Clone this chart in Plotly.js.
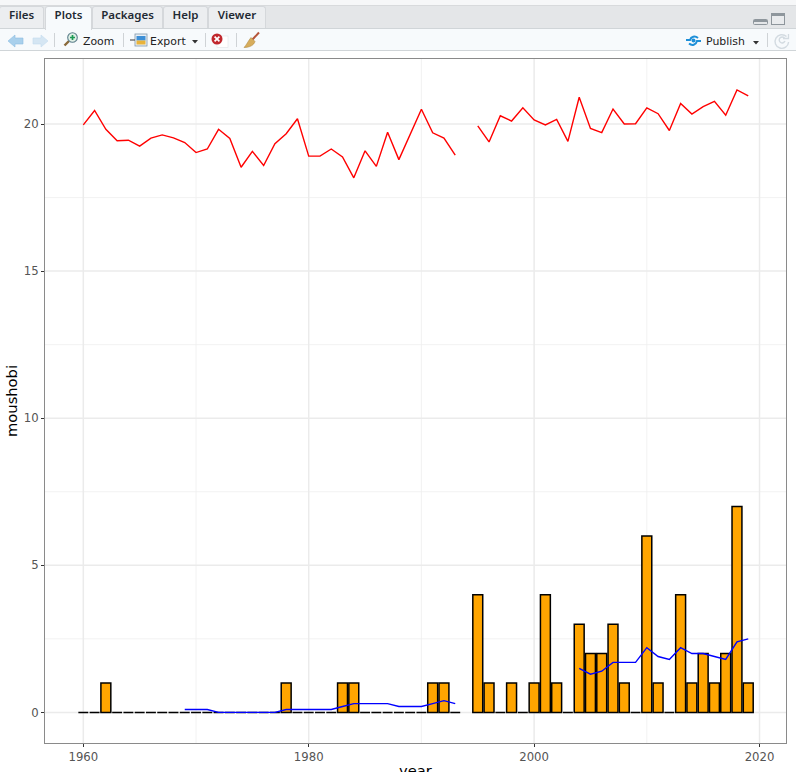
<!DOCTYPE html>
<html>
<head>
<meta charset="utf-8">
<script src="https://cdn.plot.ly/plotly-3.0.1.min.js"></script>
<style>
html,body{margin:0;padding:0;background:#fff;width:796px;height:772px;overflow:hidden}
#chart{position:absolute;left:0;top:0;width:796px;height:772px}
#chart .xgrid,#chart .ygrid{shape-rendering:geometricPrecision !important}
#chart .g-ytitle{transform:translate(11px,0)}
#chrome{position:absolute;left:0;top:0;width:796px;height:51px;background:#f4f6f8;z-index:5;overflow:hidden}
#chrome .bar{position:absolute;left:0;width:796px}
#chrome .tab{position:absolute;top:6px;height:22px;line-height:22px;text-align:center;background:#eceef0;border:1px solid #d5d8db;border-bottom:none;box-sizing:border-box;border-radius:3px 3px 0 0;font:600 11.5px "Noto Sans",sans-serif;color:#1f2a33}
#chrome .lbl{position:absolute;font:10.9px "DejaVu Sans",sans-serif;color:#222;line-height:14px}
#chrome .sep{position:absolute;top:33px;width:1px;height:14px;background:#cfd3d6}
#chrome svg{position:absolute;overflow:visible}
</style>
</head>
<body>
<div id="chart"></div>
<div id="chrome">
  <div class="bar" style="top:0;height:5px;background:#f6f7f8"></div>
  <div class="bar" style="top:5px;height:24px;background:#e4e6e8;border-top:1px solid #d8dadc;box-sizing:border-box"></div>
  <div class="bar" style="top:28px;height:23px;background:#f7fafc;border-top:1px solid #d0d5d8;border-bottom:1px solid #d0d5d8;box-sizing:border-box"></div>
  <div class="tab" style="left:-1px;width:45px">Files</div>
  <div class="tab" style="left:45px;width:47px;background:#f7fafc;height:24px;z-index:2">Plots</div>
  <div class="tab" style="left:92px;width:71px">Packages</div>
  <div class="tab" style="left:163px;width:45px">Help</div>
  <div class="tab" style="left:208px;width:58px">Viewer</div>

  <svg style="left:8px;top:35px" width="16" height="12"><path d="M0 6 L7 0 V3 H15 V9 H7 V12 Z" fill="#a9d0ec" stroke="#8dbde0" stroke-width=".6"/></svg>
  <svg style="left:33px;top:35px" width="16" height="12"><path d="M15 6 L8 0 V3 H0 V9 H8 V12 Z" fill="#d5e6f3" stroke="#c5dcee" stroke-width=".6"/></svg>
  <div class="sep" style="left:54px"></div>
  <svg style="left:63px;top:32px" width="15" height="15"><line x1="1.5" y1="13.5" x2="6" y2="9" stroke="#8a6a3a" stroke-width="2.4"/><circle cx="9.5" cy="5.5" r="4.8" fill="#dff0e6" stroke="#5d7f8c" stroke-width="1.1"/><path d="M9.5 3V8M7 5.5H12" stroke="#1e9a55" stroke-width="1.7"/></svg>
  <div class="lbl" style="left:83px;top:35px">Zoom</div>
  <div class="sep" style="left:123px"></div>
  <svg style="left:130px;top:33px" width="18" height="15"><rect x="5" y="1" width="12" height="12" fill="#e9f0f6" stroke="#7f97ab" stroke-width=".8"/><rect x="6.5" y="3" width="9" height="4.5" fill="#3d8fd6"/><rect x="6.5" y="7.5" width="9" height="4" fill="#e9b33a"/><path d="M0 7H5" stroke="#555" stroke-width="1.2"/></svg>
  <div class="lbl" style="left:150px;top:35px">Export</div>
  <svg style="left:192px;top:40px" width="6" height="4"><path d="M0 0H6L3 3.5Z" fill="#333"/></svg>
  <div class="sep" style="left:205px"></div>
  <svg style="left:211px;top:33px" width="18" height="15"><rect x="6" y="3" width="11" height="11.5" fill="#fff" stroke="#dfe3e6" stroke-width=".6"/><circle cx="6" cy="6" r="5.5" fill="#c0272d"/><path d="M3.6 3.6L8.4 8.4M8.4 3.6L3.6 8.4" stroke="#fff" stroke-width="1.7"/></svg>
  <div class="sep" style="left:236px"></div>
  <svg style="left:243px;top:32px" width="17" height="16"><path d="M16 0.5L9 8" stroke="#b5553a" stroke-width="2"/><path d="M8 5.5L12 9.5C11 13 7 15.5 1 15.5 3.5 13 5 9 8 5.5Z" fill="#d7ad5c" stroke="#a67f35" stroke-width=".5"/></svg>

  <svg style="left:753px;top:19px" width="15" height="6"><rect x=".5" y=".5" width="14" height="5" rx="1" fill="#e4e6e8" stroke="#8e969c"/><rect x="1" y="1" width="13" height="2" fill="#8e969c"/></svg>
  <svg style="left:771px;top:13px" width="14" height="12"><rect x=".5" y=".5" width="13" height="11" fill="#e9ebed" stroke="#8e969c"/><rect x="1" y="1" width="12" height="2" fill="#8e969c"/></svg>

  <svg style="left:685px;top:34px" width="17" height="14"><path d="M1 6H5C6 2.5 10 1.5 13 4" fill="none" stroke="#1d8fd8" stroke-width="2"/><path d="M16 7H12C11 11 7 12 4 9.5" fill="none" stroke="#1d8fd8" stroke-width="2"/><circle cx="8.5" cy="6.5" r="2" fill="#1d8fd8"/></svg>
  <div class="lbl" style="left:706px;top:35px">Publish</div>
  <svg style="left:753px;top:41px" width="6" height="4"><path d="M0 0H6L3 3.5Z" fill="#333"/></svg>
  <div class="sep" style="left:767px"></div>
  <svg style="left:774px;top:33px" width="16" height="16"><path d="M12.5 3.6A6.8 6.8 0 1 0 14.6 9" fill="none" stroke="#d3dbe1" stroke-width="1.4"/><path d="M11 8A3 3 0 1 1 10.5 5" fill="none" stroke="#d3dbe1" stroke-width="1.4"/><path d="M9 5.5H14.5V1" fill="none" stroke="#d3dbe1" stroke-width="1.3"/></svg>
</div>
<script>
const years = [1960,1961,1962,1963,1964,1965,1966,1967,1968,1969,
  1970,1971,1972,1973,1974,1975,1976,1977,1978,1979,
  1980,1981,1982,1983,1984,1985,1986,1987,1988,1989,
  1990,1991,1992,1993,1994,1995,1996,1997,1998,1999,
  2000,2001,2002,2003,2004,2005,2006,2007,2008,2009,
  2010,2011,2012,2013,2014,2015,2016,2017,2018,2019];
const counts = [0,0,1,0,0,0,0,0,0,0,
  0,0,0,0,0,0,0,0,1,0,
  0,0,0,1,1,0,0,0,0,0,
  0,1,1,0,null,4,1,0,1,0,
  1,4,1,0,3,2,2,3,1,0,
  6,1,0,4,1,2,1,2,7,1];
const redSeries = [19.97,20.46,19.82,19.43,19.45,19.25,19.52,19.63,19.53,19.37,
  19.03,19.15,19.82,19.51,18.53,19.07,18.59,19.33,19.67,20.18,
  18.91,18.91,19.15,18.88,18.17,19.09,18.56,19.72,18.79,19.65,
  20.50,19.70,19.52,18.94,null,19.94,19.39,20.28,20.10,20.55,
  20.14,19.97,20.16,19.41,20.91,19.85,19.71,20.51,20.00,20.01,
  20.55,20.35,19.78,20.70,20.34,20.59,20.77,20.30,21.16,20.96];
const blueSeries = [null,null,null,null,null,null,null,null,null,0.1,
  0.1,0.1,0,0,0,0,0,0,0.1,0.1,
  0.1,0.1,0.1,0.2,0.3,0.3,0.3,0.3,0.2,0.2,
  0.2,0.3,0.4,0.3,null,null,null,null,null,null,
  null,null,null,null,1.5,1.3,1.4,1.7,1.7,1.7,
  2.2,1.9,1.8,2.2,2.0,2.0,1.9,1.8,2.4,2.5];
const xTicks = [1960,1980,2000,2020];
const yTicks = [0,5,10,15,20];

const data = [
  {type:'bar', x:years, y:counts, width:0.88,
   marker:{color:'#FFA500', line:{color:'#000000', width:1.5}}, hoverinfo:'x+y'},
  {type:'scatter', mode:'lines', x:years, y:redSeries, connectgaps:false,
   line:{color:'#FF0000', width:1.4}},
  {type:'scatter', mode:'lines', x:years, y:blueSeries, connectgaps:false,
   line:{color:'#0000FF', width:1.4}}
];
const axisCommon = {
  showline:true, mirror:true, linecolor:'#8a8a8a', linewidth:1,
  ticks:'outside', ticklen:3, tickwidth:1, tickcolor:'#333333',
  tickfont:{family:'DejaVu Sans', size:11.7, color:'#555555'},
  showgrid:true, gridcolor:'#EBEBEB', gridwidth:1.5, zeroline:false
};
const layout = {
  width:796, height:772, showlegend:false,
  paper_bgcolor:'#fff', plot_bgcolor:'#fff',
  margin:{l:45,r:10,t:59,b:29,pad:0},
  font:{family:'DejaVu Sans', color:'#000'},
  xaxis:Object.assign({}, axisCommon, {
    range:[1956.6,2022.35], tickmode:'array', tickvals:xTicks, ticktext:xTicks.map(String),
    minor:{showgrid:true, tick0:1970, dtick:20, gridcolor:'#EFEFEF', gridwidth:0.8, ticks:''},
    title:{text:'year', font:{family:'DejaVu Sans', size:14.7, color:'#000'}}
  }),
  yaxis:Object.assign({}, axisCommon, {
    range:[-1.04,22.21], tickmode:'array', tickvals:yTicks, ticktext:yTicks.map(String),
    minor:{showgrid:true, tick0:2.5, dtick:5, gridcolor:'#EFEFEF', gridwidth:0.8, ticks:''},
    title:{text:'moushobi', font:{family:'DejaVu Sans', size:14.7, color:'#000'}}
  })
};
Plotly.newPlot('chart', data, layout, {displayModeBar:false, staticPlot:true}).then(function(){
  const t = document.querySelector('#chart .xtitle');
  if (t) t.setAttribute('y', parseFloat(t.getAttribute('y')) + 7);
});
</script>
</body>
</html>
